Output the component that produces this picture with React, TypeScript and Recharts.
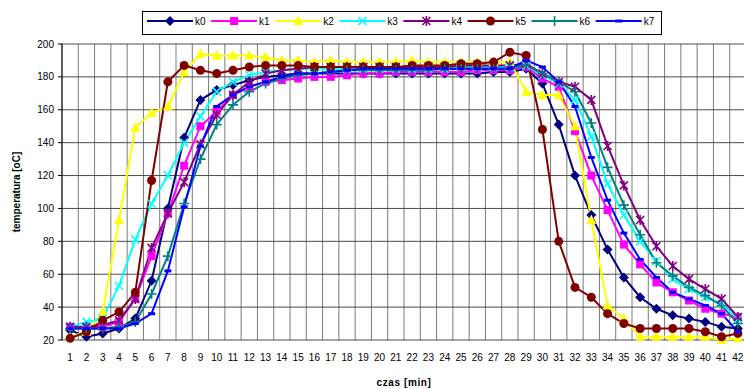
import { LineChart, Line, XAxis, YAxis, CartesianGrid, Legend, Label } from 'recharts';

// czas [min]
const minutes = [
  1, 2, 3, 4, 5, 6, 7, 8, 9, 10, 11, 12, 13, 14, 15, 16, 17, 18, 19, 20, 21,
  22, 23, 24, 25, 26, 27, 28, 29, 30, 31, 32, 33, 34, 35, 36, 37, 38, 39, 40, 41, 42,
];

// temperatura [oC] per sensor
const k0 = [26, 22, 24, 27, 33, 56, 100, 143, 166, 172, 175, 178, 180, 181, 182, 182, 182, 182, 182, 182, 182, 182, 182, 182, 182, 182, 183, 183, 185, 176, 151, 120, 96, 75, 58, 46, 39, 35, 33, 31, 28, 27];
const k1 = [28, 27, 28, 31, 45, 71, 97, 126, 150, 159, 169, 174, 177, 178, 179, 180, 180, 181, 182, 182, 183, 183, 183, 183, 183, 184, 184, 184, 186, 179, 174, 147, 120, 99, 78, 66, 55, 49, 44, 39, 36, 34];
const k2 = [22, 25, 37, 93, 149, 158, 162, 183, 194, 193, 193, 193, 192, 190, 190, 189, 190, 189, 189, 189, 189, 190, 189, 189, 189, 189, 189, 189, 171, 169, 169, 150, 93, 41, 33, 22, 22, 22, 22, 22, 20, 21];
const k3 = [28, 31, 33, 53, 81, 103, 120, 140, 156, 171, 177, 181, 183, 184, 185, 185, 185, 185, 185, 185, 185, 185, 185, 185, 186, 186, 186, 186, 187, 181, 176, 166, 144, 115, 96, 80, 68, 57, 51, 46, 42, 33];
const k4 = [28, 28, 29, 32, 45, 76, 97, 116, 139, 157, 169, 177, 182, 184, 185, 186, 186, 186, 186, 186, 186, 186, 186, 186, 187, 187, 187, 187, 188, 182, 177, 174, 166, 138, 114, 93, 77, 65, 57, 51, 45, 34];
const k5 = [21, 25, 32, 37, 49, 117, 177, 187, 184, 182, 184, 186, 187, 187, 187, 186, 186, 186, 186, 186, 186, 187, 187, 187, 188, 188, 189, 195, 193, 148, 80, 52, 46, 36, 30, 27, 27, 27, 27, 25, 22, 24];
const k6 = [27, 27, 27, 28, 31, 48, 71, 103, 130, 151, 163, 171, 176, 179, 181, 182, 183, 184, 184, 184, 184, 184, 184, 185, 185, 185, 185, 185, 187, 182, 177, 171, 152, 125, 102, 84, 67, 59, 52, 47, 41, 30];
const k7 = [27, 27, 27, 27, 30, 36, 62, 101, 138, 162, 169, 174, 177, 180, 182, 182, 183, 184, 185, 185, 185, 185, 185, 185, 185, 185, 185, 185, 190, 186, 177, 162, 131, 105, 85, 69, 58, 49, 45, 41, 36, 25];

const yTicks = [20, 40, 60, 80, 100, 120, 140, 160, 180, 200];

type Shape = 'diamond' | 'square' | 'triangle' | 'x' | 'star' | 'circle' | 'plus' | 'dash';

const series: { key: string; values: number[]; color: string; shape: Shape }[] = [
  { key: 'k0', values: k0, color: '#000080', shape: 'diamond' },
  { key: 'k1', values: k1, color: '#FF00FF', shape: 'square' },
  { key: 'k2', values: k2, color: '#FFFF00', shape: 'triangle' },
  { key: 'k3', values: k3, color: '#00FFFF', shape: 'x' },
  { key: 'k4', values: k4, color: '#800080', shape: 'star' },
  { key: 'k5', values: k5, color: '#800000', shape: 'circle' },
  { key: 'k6', values: k6, color: '#008080', shape: 'plus' },
  { key: 'k7', values: k7, color: '#0000FF', shape: 'dash' },
];

const data = minutes.map((t, i) => {
  const row: Record<string, number> = { t };
  series.forEach((s) => {
    row[s.key] = s.values[i];
  });
  return row;
});

// category boundaries for the vertical grid (Excel style)
const gridTicks = [0, ...minutes].map((m) => m + 0.5);

const FONT = "Arial, 'Liberation Sans', sans-serif";

function marker(shape: Shape, color: string, cx: number, cy: number, key?: string | number) {
  switch (shape) {
    case 'diamond':
      return <path key={key} d={`M${cx},${cy - 5}L${cx + 5},${cy}L${cx},${cy + 5}L${cx - 5},${cy}Z`} fill={color} />;
    case 'square':
      return <rect key={key} x={cx - 4} y={cy - 4} width={8} height={8} fill={color} />;
    case 'triangle':
      return <path key={key} d={`M${cx},${cy - 5.5}L${cx + 5},${cy + 4}L${cx - 5},${cy + 4}Z`} fill={color} />;
    case 'x':
      return (
        <path key={key} d={`M${cx - 4},${cy - 4}L${cx + 4},${cy + 4}M${cx + 4},${cy - 4}L${cx - 4},${cy + 4}`} stroke={color} strokeWidth={1.6} fill="none" />
      );
    case 'star':
      return (
        <path
          key={key}
          d={`M${cx - 4},${cy - 4}L${cx + 4},${cy + 4}M${cx + 4},${cy - 4}L${cx - 4},${cy + 4}M${cx},${cy - 5}L${cx},${cy + 5}`}
          stroke={color}
          strokeWidth={1.6}
          fill="none"
        />
      );
    case 'circle':
      return <circle key={key} cx={cx} cy={cy} r={4.5} fill={color} />;
    case 'plus':
      return (
        <path key={key} d={`M${cx - 5},${cy}L${cx + 5},${cy}M${cx},${cy - 5}L${cx},${cy + 5}`} stroke={color} strokeWidth={1.6} fill="none" />
      );
    case 'dash':
    default:
      return <rect key={key} x={cx - 3.5} y={cy - 1.5} width={7} height={3} fill={color} />;
  }
}

const makeDot = (shape: Shape, color: string) => (props: any) => {
  const { cx, cy, index } = props;
  if (cx == null || cy == null) return <g key={index} />;
  return marker(shape, color, cx, cy, index);
};

function LegendBox() {
  const step = 64.1;
  return (
    <svg width={520} height={24} style={{ display: 'block' }}>
      <rect x={0.5} y={0.5} width={519} height={23} fill="#fff" stroke="#000" />
      {series.map((s, i) => {
        const x0 = 5 + i * step;
        return (
          <g key={s.key}>
            <line x1={x0} x2={x0 + 46} y1={10} y2={10} stroke={s.color} strokeWidth={2} />
            {marker(s.shape, s.color, x0 + 23, 10)}
            <text x={x0 + 48} y={13.5} fontSize={10} fontFamily={FONT} fill="#000">
              {s.key}
            </text>
          </g>
        );
      })}
    </svg>
  );
}

export default function App() {
  return (
    <div
      style={{
        position: 'fixed',
        left: 0,
        top: 0,
        width: 744,
        height: 389,
        overflow: 'hidden',
        background: '#fff',
        fontFamily: FONT,
      }}
    >
      <LineChart width={760} height={389} data={data} margin={{ top: 20, right: 14, bottom: 0, left: 0 }}>
        <CartesianGrid xAxisId="grid" horizontal={false} stroke="#7a7a7a" strokeWidth={1} />
        <CartesianGrid xAxisId="grid" vertical={false} stroke="#4a4a4a" strokeWidth={1} />
        <XAxis
          xAxisId="grid"
          type="number"
          dataKey="t"
          domain={[0.5, 42.5]}
          ticks={gridTicks}
          interval={0}
          height={0}
          tickSize={4}
          tickFormatter={() => ''}
          stroke="#000"
        />
        <XAxis
          xAxisId="main"
          type="number"
          dataKey="t"
          domain={[0.5, 42.5]}
          ticks={minutes}
          interval={0}
          height={49}
          axisLine={false}
          tickLine={false}
          tickSize={6}
          tickMargin={8}
          tick={{ fontSize: 10, fill: '#000' }}
        >
          <Label
            value="czas [min]"
            position="insideBottom"
            offset={3}
            style={{ fontSize: 10, fontWeight: 'bold', fill: '#000', letterSpacing: 0.6 }}
          />
        </XAxis>
        <YAxis
          type="number"
          domain={[20, 200]}
          ticks={yTicks}
          interval={0}
          width={62}
          tickSize={4}
          tickMargin={4}
          stroke="#000"
          tick={{ fontSize: 10, fill: '#000' }}
        >
          <Label
            value="temperatura [oC]"
            angle={-90}
            position="insideLeft"
            offset={16}
            style={{ textAnchor: 'middle', fontSize: 10, fontWeight: 'bold', fill: '#000' }}
          />
        </YAxis>
        <Legend
          verticalAlign="top"
          wrapperStyle={{ top: 11, left: 142, width: 520, height: 24 }}
          content={() => <LegendBox />}
        />
        {series.map((s) => (
          <Line
            key={s.key}
            xAxisId="main"
            type="linear"
            dataKey={s.key}
            stroke={s.color}
            strokeWidth={2}
            dot={makeDot(s.shape, s.color)}
            activeDot={false}
            isAnimationActive={false}
          />
        ))}
      </LineChart>
    </div>
  );
}
